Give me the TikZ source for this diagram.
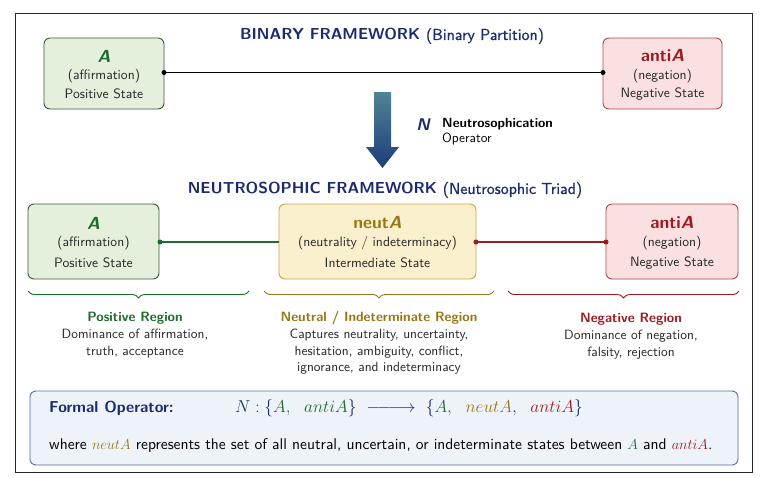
\documentclass[tikz,border=0pt]{standalone}
\usepackage{fontspec}
\setsansfont{lmsans10-regular.otf}[BoldFont=lmsans10-bold.otf, ItalicFont=lmsans10-oblique.otf, BoldItalicFont=lmsans10-boldoblique.otf]
\usetikzlibrary{decorations.pathreplacing,calc}
\definecolor{navy}{HTML}{1C2B6E}
\definecolor{gtext}{HTML}{1E6B2E}
\definecolor{gfill}{HTML}{E4F0DC}
\definecolor{gborder}{HTML}{3F5A3C}
\definecolor{rtext}{HTML}{9E1A1F}
\definecolor{rfill}{HTML}{FAE0E1}
\definecolor{rborder}{HTML}{B0474C}
\definecolor{ytext}{HTML}{9A7612}
\definecolor{yfill}{HTML}{FBF0CD}
\definecolor{yborder}{HTML}{C9A64E}
\definecolor{bfill}{HTML}{EEF2F9}
\definecolor{bborder}{HTML}{5A6F9A}
\definecolor{atop}{HTML}{4E8595}
\definecolor{abot}{HTML}{1E3C7C}
\newcommand{\semib}[1]{{\mdseries\addfontfeature{FakeBold=0.8}#1}}
\tikzset{
  x=1pt,y=-1pt,
  box/.style={rounded corners=6pt, line width=0.9pt},
  ttl/.style={font=\sffamily\bfseries\fontsize{17.5}{19}\selectfont, anchor=center},
  sub/.style={font=\sffamily\fontsize{13.6}{15}\selectfont, text=black!85, anchor=center},
  rtitle/.style={font=\sffamily\bfseries\fontsize{13.5}{15}\selectfont, anchor=center},
  rdesc/.style={font=\sffamily\fontsize{13.4}{16.5}\selectfont, text=black!85, align=center, anchor=north, inner sep=0pt},
  hdr/.style={font=\sffamily\bfseries\fontsize{15.9}{18}\selectfont, text=navy, anchor=center},
  brc/.style={decorate, decoration={brace, amplitude=7pt, mirror}, line width=0.9pt},
  dotend/.style={circle, fill, inner sep=0pt, minimum size=5pt},
}
\begin{document}
\begin{tikzpicture}
\useasboundingbox (0,0) rectangle (760,477);
\fill[white] (0,0) rectangle (760,477);
\draw[line width=1pt, black!85] (15.5,13.5) rectangle (752,472);

% ---- binary framework
\node[hdr] (h1) at (392,36) {BINARY FRAMEWORK \semib{(Binary Partition)}};
\draw[box, fill=gfill, draw=gborder] (44,38) rectangle (164,109);
\coordinate (ta) at (164,72.5);
\node[ttl, text=gtext] (tA) at (104,56) {\itshape A};
\node[sub] (tA1) at (104,76) {(affirmation)};
\node[sub] (tA2) at (104,94) {Positive State};
\draw[box, fill=rfill, draw=rborder] (603,38) rectangle (722,109);
\coordinate (tn) at (603,72.5);
\node[ttl, text=rtext] (tN) at (662.5,56) {anti\itshape A};
\node[sub] (tN1) at (662.5,76) {(negation)};
\node[sub] (tN2) at (662.5,94) {Negative State};
\draw[line width=1.6pt, black] (ta) -- (tn);
\node[dotend] at (ta) {};
\node[dotend] at (tn) {};

% ---- arrow
\shade[top color=atop, bottom color=abot] (374,92) -- (391,92) -- (391,147) -- (399,147) -- (382.5,168) -- (366,147) -- (374,147) -- cycle;
\node[font=\sffamily\bfseries\itshape\fontsize{17}{19}\selectfont, text=navy] (opN) at (423,125) {N};
\node[font=\sffamily\fontsize{13.3}{15}\selectfont, align=left, anchor=west, inner sep=0pt] (opT) at (442,132) {\textbf{Neutrosophication}\\Operator};

% ---- neutrosophic framework
\node[hdr] (h2) at (385,190) {NEUTROSOPHIC FRAMEWORK \semib{(Neutrosophic Triad)}};
\draw[box, fill=gfill, draw=gborder] (28,204) rectangle (159,279);
\node[ttl, text=gtext] (bA) at (93.5,223) {\itshape A};
\node[sub] (bA1) at (93.5,243) {(affirmation)};
\node[sub] (bA2) at (93.5,263) {Positive State};
\draw[box, fill=yfill, draw=yborder] (279,204) rectangle (476,279);
\node[ttl, text=ytext] (bU) at (377.5,223) {neut\itshape A};
\node[sub] (bU1) at (377.5,243) {(neutrality / indeterminacy)};
\node[sub] (bU2) at (377.5,263) {Intermediate State};
\draw[box, fill=rfill, draw=rborder] (606,204) rectangle (738,279);
\node[ttl, text=rtext] (bN) at (672,223) {anti\itshape A};
\node[sub] (bN1) at (672,243) {(negation)};
\node[sub] (bN2) at (672,263) {Negative State};
\coordinate (ga) at (160,242);
\coordinate (gu) at (279,242);
\coordinate (ru) at (476,242);
\coordinate (rn) at (606,242);
\draw[line width=2pt, gtext] (ga) -- (gu);
\node[dotend, gtext] at (ga) {};
\draw[line width=2pt, rtext] (ru) -- (rn);
\node[dotend, rtext] at (ru) {};
\node[dotend, rtext] at (rn) {};

% ---- braces
\draw[brc, gtext] (28,291) -- (249,291);
\draw[brc, ytext] (264,291) -- (494,291);
\draw[brc, rtext] (508,291) -- (739,291);
\node[rtitle, text=gtext] (pr) at (135,318) {Positive Region};
\node[rdesc] (prd) at (135,329) {Dominance of affirmation,\\truth, acceptance};
\node[rtitle, text=ytext] (ur) at (379,318) {Neutral / Indeterminate Region};
\node[rdesc] (urd) at (379,329) {Captures neutrality, uncertainty,\\hesitation, ambiguity, conflict,\\ignorance, and indeterminacy};
\node[rtitle, text=rtext] (nr) at (631,319) {Negative Region};
\node[rdesc] (nrd) at (631,330) {Dominance of negation,\\falsity, rejection};

% ---- formal operator box
\draw[box, fill=bfill, draw=bborder] (30,391) rectangle (738,465);
\node[font=\sffamily\bfseries\fontsize{15.8}{17}\selectfont, text=navy, anchor=west, inner sep=0pt] (fo) at (49,408) {Formal Operator:};
\node[font=\fontsize{18}{20}\selectfont, anchor=west, inner sep=0pt] (fm) at (235,408) {$\color{navy}N:\{\color{gtext}A,\ \ antiA\color{navy}\}\ \relbar\joinrel\relbar\joinrel\relbar\joinrel\rightarrow\ \{\color{gtext}A,\ \ \color{ytext}neutA\color{navy},\ \ \color{rtext}antiA\color{navy}\}$};
\node[font=\sffamily\fontsize{15.5}{17}\selectfont, anchor=west, inner sep=0pt] (wh) at (49,446) {where $\color{ytext}neutA$ represents the set of all neutral, uncertain, or indeterminate states between $\color{gtext}A$ and $\color{rtext}antiA$.};
\end{tikzpicture}
\end{document}
